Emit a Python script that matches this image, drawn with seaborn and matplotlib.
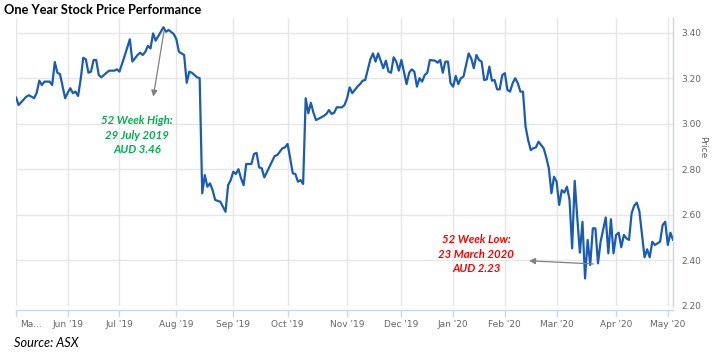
import matplotlib
matplotlib.use("Agg")
import matplotlib.pyplot as plt
from matplotlib.transforms import ScaledTranslation
import seaborn as sns
import pandas as pd

# trading-session number (0 = first session shown) and closing price (AUD)
sessions = [0, 1, 4, 5, 7, 8, 9, 10, 11, 13, 14, 15, 16, 17, 19, 20, 21, 22, 23, 24,
            25, 26, 27, 28, 29, 30, 31, 32, 33, 35, 36, 38, 39, 40, 42, 44, 45, 47, 48, 49,
            50, 51, 52, 53, 54, 56, 57, 58, 59, 61, 62, 63, 65, 66, 67, 68, 69, 70, 71, 72,
            73, 74, 75, 76, 77, 78, 79, 81, 82, 83, 84, 85, 86, 87, 88, 89, 91, 92, 93, 94,
            95, 96, 98, 100, 101, 102, 103, 104, 105, 106, 107, 108, 109, 110, 111, 112, 113, 114, 115, 116,
            118, 119, 120, 121, 122, 123, 124, 126, 127, 128, 129, 130, 132, 133, 134, 135, 137, 138, 139, 140,
            141, 142, 143, 144, 145, 146, 147, 148, 149, 151, 152, 153, 154, 155, 156, 157, 158, 159, 160, 162,
            163, 164, 165, 166, 167, 168, 169, 170, 171, 172, 173, 174, 175, 176, 177, 178, 179, 180, 181, 182,
            183, 184, 185, 186, 187, 188, 189, 190, 191, 192, 193, 194, 195, 196, 197, 198, 199, 200, 201, 202,
            204, 205, 206, 207, 208, 209, 210, 211, 212, 213, 214, 215, 216, 217, 218, 219, 220, 221, 222, 223,
            224, 225, 226, 228, 229, 230, 231, 232, 233, 234, 235, 236, 237, 238, 239, 240, 241, 243, 244, 245,
            246, 247, 249, 250, 251, 252, 253, 254]
prices = [3.116, 3.082, 3.119, 3.125, 3.112, 3.136, 3.189, 3.170, 3.185, 3.185, 3.170, 3.271, 3.224, 3.218, 3.112, 3.136, 3.156, 3.134, 3.141, 3.122,
          3.195, 3.290, 3.283, 3.224, 3.229, 3.280, 3.280, 3.214, 3.204, 3.224, 3.233, 3.233, 3.239, 3.229, 3.298, 3.371, 3.273, 3.302, 3.312, 3.302,
          3.316, 3.342, 3.331, 3.397, 3.365, 3.404, 3.424, 3.404, 3.412, 3.394, 3.371, 3.316, 3.302, 3.180, 3.229, 3.224, 3.214, 3.204, 3.200, 2.694,
          2.774, 2.723, 2.738, 2.708, 2.665, 2.661, 2.657, 2.613, 2.730, 2.752, 2.789, 2.779, 2.800, 2.760, 2.730, 2.823, 2.823, 2.867, 2.872, 2.808,
          2.804, 2.764, 2.811, 2.858, 2.862, 2.877, 2.892, 2.896, 2.911, 2.848, 2.782, 2.779, 2.745, 2.752, 2.735, 3.112, 3.046, 3.092, 3.048, 3.016,
          3.028, 3.034, 3.043, 3.060, 3.043, 3.048, 3.072, 3.072, 3.082, 3.112, 3.160, 3.134, 3.163, 3.174, 3.189, 3.192, 3.283, 3.309, 3.273, 3.309,
          3.277, 3.244, 3.277, 3.229, 3.224, 3.292, 3.273, 3.233, 3.280, 3.174, 3.224, 3.239, 3.229, 3.163, 3.200, 3.185, 3.214, 3.224, 3.280, 3.277,
          3.268, 3.280, 3.224, 3.273, 3.273, 3.178, 3.163, 3.210, 3.174, 3.200, 3.207, 3.258, 3.309, 3.287, 3.244, 3.302, 3.280, 3.273, 3.192, 3.195,
          3.251, 3.189, 3.192, 3.151, 3.151, 3.214, 3.222, 3.148, 3.141, 3.178, 3.200, 3.178, 3.141, 3.141, 2.987, 2.928, 2.884, 2.892, 2.896, 2.921,
          2.892, 2.852, 2.804, 2.694, 2.767, 2.745, 2.643, 2.708, 2.697, 2.723, 2.665, 2.452, 2.749, 2.584, 2.433, 2.569, 2.320, 2.489, 2.379, 2.540,
          2.540, 2.386, 2.481, 2.588, 2.430, 2.580, 2.430, 2.511, 2.521, 2.457, 2.511, 2.496, 2.489, 2.606, 2.640, 2.653, 2.615, 2.413, 2.448, 2.413,
          2.481, 2.467, 2.481, 2.555, 2.569, 2.467, 2.521, 2.489]

# first session of each month and its label
month_sessions = [0, 20, 40, 62, 84, 105, 128, 149, 169, 189, 209, 232, 252]
month_labels = ["Ma...", "Jun '19", "Jul '19", "Aug '19", "Sep '19", "Oct '19", "Nov '19",
                "Dec '19", "Jan '20", "Feb '20", "Mar '20", "Apr '20", "May '20"]
price_ticks = [2.20, 2.40, 2.60, 2.80, 3.00, 3.20, 3.40]

high_text = "52 Week High:\n29 July 2019\nAUD 3.46"
low_text = "52 Week Low:\n23 March 2020\nAUD 2.23"

sns.set_theme(style="white")
plt.rcParams["font.family"] = ["DejaVu Sans"]

df = pd.DataFrame({"session": sessions, "price": prices})

W, H = 726, 354
fig = plt.figure(figsize=(W / 100, H / 100), dpi=100)
ax = fig.add_axes([16 / W, 1 - 306 / H, (673 - 16) / W, (306 - 18) / H])

sns.lineplot(data=df, x="session", y="price", ax=ax, color="#1a5cb3",
             linewidth=1.6, zorder=3)

ax.set_xlim(0, 254)
ax.set_ylim(2.1987, 3.4646)

ax.set_xticks(month_sessions)
ax.set_xticklabels(month_labels)
ax.set_yticks(price_ticks)
ax.set_yticklabels([f"{v:.2f}" for v in price_ticks])

ax.grid(True, color="#e6e6e6", linewidth=1.0)
ax.set_axisbelow(True)

for s in ["top", "left"]:
    ax.spines[s].set_visible(False)
ax.spines["right"].set_color("#ccd6eb")
ax.spines["right"].set_linewidth(1.0)
ax.spines["bottom"].set_color("#ccd6eb")
ax.spines["bottom"].set_linewidth(1.0)
ax.spines["bottom"].set_position(("outward", 3))

ax.yaxis.tick_right()
ax.yaxis.set_label_position("right")
ax.tick_params(axis="y", length=0, pad=6, labelsize=6.5, labelcolor="#666666")
ax.tick_params(axis="x", bottom=True, length=5, width=1, color="#ccd6eb", pad=2,
               labelsize=6.5, labelcolor="#666666")
first = ax.get_xticklabels()[0]
first.set_ha("left")
first.set_transform(first.get_transform() + ScaledTranslation(4 / 100, 0, fig.dpi_scale_trans))

ax.set_xlabel("")
ax.set_ylabel("Price", rotation=270, color="#666666", fontsize=6.5)
ax.yaxis.set_label_coords(1.052, 0.55)

# annotations
ax.text(46.8, 2.95, high_text, ha="center", va="center", color="#00b050",
        fontsize=8.2, fontweight="bold", style="italic", family="Lato", linespacing=1.4)
ax.text(178, 2.427, low_text, ha="center", va="center", color="#ff0000",
        fontsize=8.2, fontweight="bold", style="italic", family="Lato", linespacing=1.4)

ax.annotate("", xy=(52.9, 3.107), xytext=(57.4, 3.419),
            arrowprops=dict(arrowstyle="-|>", color="#808080", lw=0.9, mutation_scale=9))
ax.annotate("", xy=(197.3, 2.398), xytext=(224.3, 2.383),
            arrowprops=dict(arrowstyle="-|>", color="#808080", lw=0.9, mutation_scale=9))

fig.text(4 / W, 1 - 10 / H, "One Year Stock Price Performance", ha="left", va="center",
         fontsize=9.2, fontweight="bold", family="Lato", color="#000000")
fig.text(14 / W, 1 - 343 / H, "Source: ASX", ha="left", va="center",
         fontsize=9.2, style="italic", family="Lato", color="#000000")

fig.savefig("out.png", dpi=100)
